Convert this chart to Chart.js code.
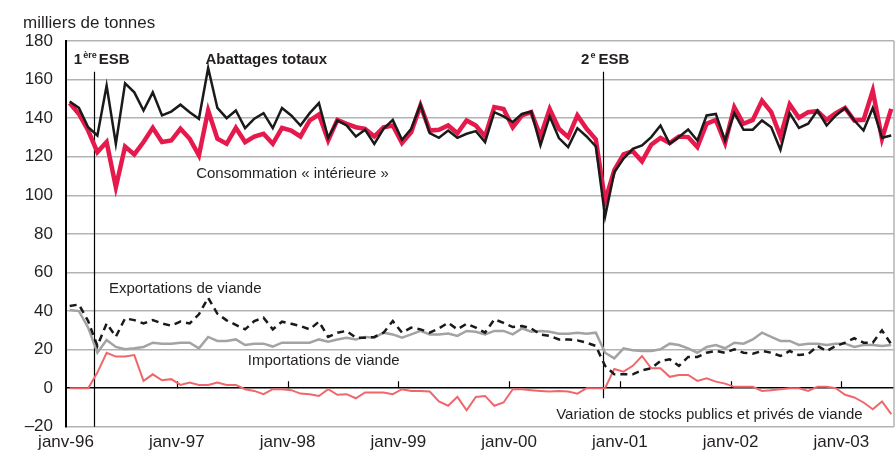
<!DOCTYPE html>
<html>
<head>
<meta charset="utf-8">
<script src="https://cdn.jsdelivr.net/npm/chart.js@4.4.0/dist/chart.umd.min.js"></script>
<style>
    html, body { margin: 0; padding: 0; background: #fff; }
</style>
</head>
<body>
<canvas id="idChartViande" width="896" height="450"></canvas>
<script>
// x tick labels, one per january (monthly data from janv-96 to juin-03)
var aTickLabels = ['janv-96', 'janv-97', 'janv-98', 'janv-99', 'janv-00', 'janv-01', 'janv-02', 'janv-03'];

var aAbattages = [
    148.6, 145.3, 135.3, 131, 156.9, 126.7, 158.1, 153.4, 144, 153.4,
    141.4, 143.4, 147, 143.1, 139.7, 166, 145.3, 140, 144, 134.8,
    139.7, 142.6, 134.8, 145.3, 141.4, 136.2, 142.6, 147.8, 129.8, 138.8,
    136.2, 130.5, 134, 126.7, 134.5, 139.1, 128.8, 134.5, 147.1, 132.2,
    129.8, 133.6, 129.8, 131.9, 133.3, 127.6, 143.1, 140.9, 138, 142.2,
    143.4, 125.9, 140.9, 129.7, 125, 134.8, 130.5, 125.3, 89, 112,
    119, 124.1, 125.9, 130.2, 136.2, 126.7, 130.2, 134.1, 128.4, 141.4,
    142.2, 128.4, 142.6, 134, 134, 138.8, 135.3, 123.6, 142.6, 135,
    137.1, 144, 136.2, 141.4, 145.3, 138.8, 133.6, 145.3, 129.8, 131
];

var aConsommation = [
    147.8, 142.2, 133.6, 122.4, 127.6, 104.3, 125.3, 121.2, 127.6, 135,
    127.6, 128.4, 134.5, 129.3, 120.7, 144, 129.3, 126.7, 135, 127.6,
    130.5, 131.9, 126.7, 135, 133.6, 130.5, 138.8, 141.9, 128.4, 139.1,
    137.1, 135.3, 134.5, 130.5, 135.3, 136.2, 127.1, 132.8, 146.6, 133.6,
    134, 136.2, 132.2, 138.8, 136.2, 130.5, 145.7, 144.7, 135.3, 141.4,
    143.1, 130.5, 144.7, 134.5, 130.2, 141.4, 134.5, 129, 97, 113,
    121.2, 122.9, 117.6, 126.2, 129.7, 127.1, 130.5, 130.2, 125, 137.1,
    139.1, 127.1, 145.7, 137.1, 139.1, 149.1, 143.1, 130.5, 147.1, 140.2,
    143.1, 143.6, 139.1, 142.6, 145.3, 138.8, 139.1, 154.3, 129.3, 144.8
];

var aExportations = [
    42.6, 43.4, 34.8, 21.9, 33.6, 26.7, 36.2, 35.3, 33.6, 35.3,
    33.6, 32.4, 34.5, 33.6, 38.3, 46.9, 38.6, 35.2, 32.8, 30.5,
    34.8, 36.6, 30.5, 34.5, 33.4, 32.2, 30.5, 34.5, 26.6, 28.8,
    29.7, 26.2, 26.2, 26.6, 28.8, 34.8, 28.8, 31.4, 30.5, 28.8,
    31, 33.9, 30.5, 33.4, 31.4, 28.8, 35.7, 33.9, 31.7, 32.2,
    31, 27.9, 27.1, 25.3, 25.3, 24.8, 23.6, 21.9, 11.6, 7.2,
    7.2, 7.2, 9.3, 10.3, 14.1, 15, 11.6, 16.2, 16.2, 18.4,
    19.3, 18.4, 20.2, 18.4, 17.9, 19.3, 18.4, 16.7, 19.3, 17.2,
    17.6, 21.9, 19.3, 21.9, 23.6, 25.9, 23.6, 23.6, 30, 22.8
];

var aImportations = [
    40.5, 40, 31.4, 18.4, 25, 21.4, 20.2, 20.7, 21.4, 23.6,
    23.1, 23.1, 23.6, 23.6, 20.7, 26.6, 24.5, 24.5, 25.3, 22.4,
    23.1, 23.1, 21.6, 23.6, 23.6, 23.6, 23.6, 25.3, 24.1, 25.3,
    26.2, 25.3, 26.6, 26.2, 28.8, 27.9, 26.2, 27.9, 29.7, 27.9,
    27.9, 28.3, 27.1, 29.7, 29.3, 27.9, 29.7, 29.7, 27.9, 31,
    29.3, 29.7, 29.3, 28.3, 28.3, 28.8, 28.3, 28.8, 18.4, 15.5,
    20.7, 19.7, 19.3, 19.3, 20.2, 23.1, 22.4, 20.7, 18.4, 21.4,
    22.4, 20.7, 23.6, 23.1, 25.3, 28.8, 26.6, 24.5, 24.5, 22.4,
    23.1, 23.1, 22.4, 23.1, 23.1, 21.4, 22.4, 22.4, 21.9, 22.4
];

var aStocks = [
    0, 0, 0, 8.1, 18.4, 16.4, 16.4, 17.2, 3.8, 7.2,
    4.1, 4.7, 1.7, 2.9, 1.7, 1.7, 2.9, 1.7, 1.7, -0.5,
    -1.4, -3.1, -0.5, -0.5, -1, -2.8, -3.1, -4, -0.5, -3.4,
    -3.1, -5.2, -2.2, -2.2, -2.2, -3.1, -0.5, -1.4, -1.4, -1.7,
    -6.9, -9.1, -4.5, -11.4, -4.5, -4, -9.1, -7.4, -0.5, -0.5,
    -1, -1.4, -1.7, -1.4, -1.7, -2.8, 0, 0, 0, 10,
    8.6, 11.6, 16.7, 10.3, 10.3, 5.9, 6.9, 6.9, 3.8, 5.2,
    3.4, 2.4, 0.7, 0.7, 0.7, -1.4, -1, -0.5, 0, 0,
    -1.4, 0.7, 0.7, 0, -3.4, -4.8, -7.4, -10.9, -6.9, -13.4
];

// month index -> point, plotted a little after the start of each month
function toPoints(aValues) {
    var aData = [];
    for (var i = 0; i < aValues.length; i++) {
        aData.push({ x: i + 0.4, y: aValues[i] });
    }
    return aData;
}

var sFont = '"Liberation Sans", Arial, Helvetica, sans-serif';
var sText = '#231f20';

// ESB lines, titles and labels
const annotationsPlugin = {
    id: 'annotations',
    beforeDatasetsDraw: function (chart) {
        var ctx = chart.ctx;
        var oX = chart.scales.x;
        var oY = chart.scales.y;
        var a = chart.chartArea;
        ctx.save();
        // right frame
        ctx.strokeStyle = '#b3b3b3';
        ctx.lineWidth = 1.5;
        ctx.beginPath();
        ctx.moveTo(a.right, a.top);
        ctx.lineTo(a.right, a.bottom);
        ctx.stroke();
        // small ticks on zero line
        var y0 = oY.getPixelForValue(0);
        ctx.strokeStyle = '#000';
        ctx.lineWidth = 1.2;
        for (var k = 1; k < aTickLabels.length; k++) {
            var px = Math.round(oX.getPixelForValue(k * 12)) + 0.5;
            ctx.beginPath();
            ctx.moveTo(px, y0);
            ctx.lineTo(px, y0 - 7);
            ctx.stroke();
        }
        // ESB vertical lines
        ctx.lineWidth = 1.2;
        var x1 = Math.round(oX.getPixelForValue(3.07)) + 0.5;
        ctx.beginPath();
        ctx.moveTo(x1, oY.getPixelForValue(164));
        ctx.lineTo(x1, oY.getPixelForValue(-20));
        ctx.stroke();
        var x2 = Math.round(oX.getPixelForValue(58.17)) + 0.5;
        ctx.beginPath();
        ctx.moveTo(x2, oY.getPixelForValue(164));
        ctx.lineTo(x2, oY.getPixelForValue(-5.2));
        ctx.stroke();
        ctx.restore();
    },
    afterDraw: function (chart) {
        var ctx = chart.ctx;
        var oX = chart.scales.x;
        var oY = chart.scales.y;
        ctx.save();
        ctx.fillStyle = sText;
        ctx.textBaseline = 'alphabetic';
        ctx.textAlign = 'left';

        ctx.font = '17px ' + sFont;
        ctx.fillText('milliers de tonnes', 23, 28);

        // bold labels
        var yb = oY.getPixelForValue(168);
        ctx.font = 'bold 15px ' + sFont;
        var xs = oX.getPixelForValue(0.85);
        ctx.fillText('1', xs, yb);
        xs += ctx.measureText('1').width + 1;
        ctx.font = 'bold 9px ' + sFont;
        ctx.fillText('ère', xs, yb - 6);
        xs += ctx.measureText('ère').width + 2;
        ctx.font = 'bold 15px ' + sFont;
        ctx.fillText('ESB', xs, yb);

        ctx.fillText('Abattages totaux', oX.getPixelForValue(15.1), yb);

        xs = oX.getPixelForValue(55.8);
        ctx.fillText('2', xs, yb);
        xs += ctx.measureText('2').width + 1;
        ctx.font = 'bold 9px ' + sFont;
        ctx.fillText('e', xs, yb - 6);
        xs += ctx.measureText('e').width + 3;
        ctx.font = 'bold 15px ' + sFont;
        ctx.fillText('ESB', xs, yb);

        // series labels
        ctx.font = '15px ' + sFont;
        ctx.fillText('Consommation « intérieure »', oX.getPixelForValue(14.1), oY.getPixelForValue(109));
        ctx.fillText('Exportations de viande', oX.getPixelForValue(4.65), oY.getPixelForValue(49.4));
        ctx.fillText('Importations de viande', oX.getPixelForValue(19.7), oY.getPixelForValue(11.9));
        ctx.fillText('Variation de stocks publics et privés de viande', oX.getPixelForValue(53.1), oY.getPixelForValue(-16));
        ctx.restore();
    }
};

const data = {
    datasets: [{
        label: 'Abattages totaux',
        data: toPoints(aAbattages),
        borderColor: '#1a1a1a',
        borderWidth: 2.5,
        order: 0
    }, {
        label: 'Consommation « intérieure »',
        data: toPoints(aConsommation),
        borderColor: '#e5194b',
        borderWidth: 4.5,
        order: 1
    }, {
        label: 'Exportations de viande',
        data: toPoints(aExportations),
        borderColor: '#1a1a1a',
        borderWidth: 2.5,
        borderDash: [7, 5],
        order: 2
    }, {
        label: 'Importations de viande',
        data: toPoints(aImportations),
        borderColor: '#a3a3a3',
        borderWidth: 2.5,
        order: 3
    }, {
        label: 'Variation de stocks publics et privés de viande',
        data: toPoints(aStocks),
        borderColor: '#f0676b',
        borderWidth: 2,
        order: 4
    }]
};

const config = {
    type: 'line',
    data: data,
    options: {
        responsive: false,
        animation: false,
        layout: {
            padding: { top: 41, right: 2, left: 0, bottom: 0 }
        },
        elements: {
            point: { radius: 0 },
            line: { tension: 0, borderJoinStyle: 'miter', fill: false }
        },
        plugins: {
            legend: { display: false },
            tooltip: { enabled: false }
        },
        scales: {
            x: {
                type: 'linear',
                min: 0,
                max: 89.7,
                afterFit: function (scale) { scale.height = 23; },
                afterBuildTicks: function (scale) {
                    scale.ticks = aTickLabels.map(function (s, k) { return { value: k * 12 }; });
                },
                ticks: {
                    autoSkip: false,
                    maxRotation: 0,
                    padding: 5,
                    color: sText,
                    font: { family: sFont, size: 17 },
                    callback: function (value) { return aTickLabels[Math.round(value / 12)]; }
                },
                grid: { display: false, drawTicks: false },
                border: { display: false }
            },
            y: {
                min: -20,
                max: 180,
                afterFit: function (scale) { scale.width = 66; },
                ticks: {
                    stepSize: 20,
                    padding: 13,
                    color: sText,
                    font: { family: sFont, size: 17 },
                    callback: function (value) { return value < 0 ? '–' + Math.abs(value) : value; }
                },
                grid: {
                    drawTicks: false,
                    color: function (c) { return c.tick && c.tick.value === 0 ? '#000' : '#b3b3b3'; },
                    lineWidth: 1.5
                },
                border: { display: true, color: '#000', width: 2 }
            }
        }
    },
    plugins: [annotationsPlugin]
};

const oChartViande = new Chart(document.getElementById('idChartViande'), config);
</script>
</body>
</html>
